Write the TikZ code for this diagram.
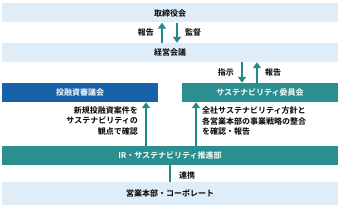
\documentclass[tikz,border=0pt]{standalone}
\usepackage{fontspec}
\setmainfont{Noto Sans CJK JP Bold}
\usetikzlibrary{arrows.meta,positioning}
\definecolor{barlight}{HTML}{DEEDF7}
\definecolor{barteal}{HTML}{2A8F8E}
\definecolor{barblue}{HTML}{1862AA}
\definecolor{arrteal}{HTML}{1F8B8B}
\begin{document}
\begin{tikzpicture}[
        x=1pt, y=-1pt,
        every node/.style={font=\fontsize{8}{10.5}\selectfont, inner sep=0pt},
        lightbar/.style={fill=barlight, minimum height=19pt, text=black},
        tealbar/.style={fill=barteal, minimum height=19pt, text=white},
        bluebar/.style={fill=barblue, minimum height=19pt, text=white},
        flow/.style={draw=arrteal, line width=2pt, -{Triangle[width=8pt,length=6pt]}},
        note/.style={align=left, text=black}
    ]
        \useasboundingbox (0,0) rectangle (340,208);
        % Bars
        \node (board) [lightbar, minimum width=336pt] at (170,13) {取締役会};
        \node (mgmt) [lightbar, minimum width=336pt] at (170,52.5) {経営会議};
        \node (invest) [bluebar, minimum width=156pt] at (80,92.5) {投融資審議会};
        \node (sust) [tealbar, minimum width=156pt] at (260,92.5) {サステナビリティ委員会};
        \node (ir) [tealbar, minimum width=336pt] at (170,155.5) {IR・サステナビリティ推進部};
        \node (sales) [lightbar, minimum width=336pt, minimum height=23pt] at (170,193.5) {営業本部・コーポレート};

        % Arrows
        \draw[flow] (162,0 |- mgmt.north) -- (162,0 |- board.south);
        \draw[flow] (177,0 |- board.south) -- (177,0 |- mgmt.north);
        \draw[flow] (242,0 |- mgmt.south) -- (242,0 |- sust.north);
        \draw[flow] (257,0 |- sust.north) -- (257,0 |- mgmt.south);
        \draw[flow] (146,0 |- ir.north) -- (146,0 |- invest.south);
        \draw[flow] (196,0 |- ir.north) -- (196,0 |- sust.south);
        \draw[draw=arrteal, line width=2pt] (170,0 |- ir.south) -- (170,0 |- sales.north);

        % Labels
        \node (rep1) [left=8pt of {(162,32.5)}] {報告};
        \node (sup) [right=8pt of {(177,32.5)}] {監督};
        \node (inst) [left=8pt of {(242,72.5)}] {指示};
        \node (rep2) [right=8pt of {(257,72.5)}] {報告};
        \node (inote) [note, align=right, anchor=north east] at (138,106.5) {新規投融資案件を\\サステナビリティの\\観点で確認};
        \node (snote) [note, anchor=north west] at (202,106.5) {全社サステナビリティ方針と\\各営業本部の事業戦略の整合\\を確認・報告};
        \node (link) [right=9pt of {(170,175)}] {連携};
    \end{tikzpicture}
\end{document}
